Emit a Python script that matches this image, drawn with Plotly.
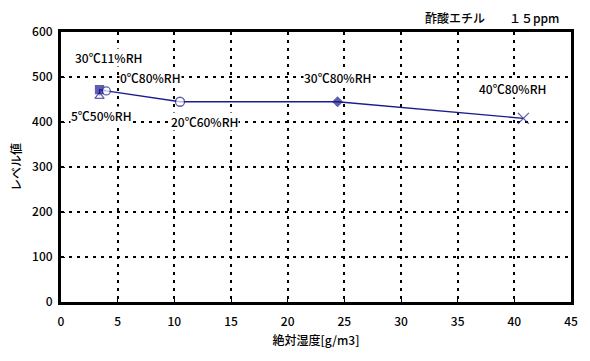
import plotly.graph_objects as go

conditions = ["5℃50%RH", "30℃11%RH", "0℃80%RH", "20℃60%RH", "30℃80%RH", "40℃80%RH"]
abs_humidity = [3.4, 3.4, 4.0, 10.5, 24.4, 40.8]
level = [457, 472, 469, 445, 445, 408]
symbols = ["triangle-up", "square", "circle", "circle", "diamond", "x-thin-open"]
fills = ["white", "#1c1c8e", "white", "white", "#1c1c8e", "#1c1c8e"]
sizes = [8, 8, 8, 9, 7, 11]

# label positions (data coords)
label_x = [3.6, 4.2, 7.9, 12.7, 24.4, 39.8]
label_y = [414, 543, 498, 401, 500, 474]

navy = "#1c1c8e"
font = "Noto Sans CJK JP"
w = 500

fig = go.Figure()
fig.add_trace(go.Scatter(
    x=abs_humidity, y=level, mode="lines+markers",
    line=dict(color=navy, width=1.3),
    marker=dict(symbol=symbols, color=fills, size=sizes,
                line=dict(color=navy, width=1.3)),
    showlegend=False,
))

for t, x, y in zip(conditions, label_x, label_y):
    fig.add_annotation(x=x, y=y, text=t, showarrow=False, bgcolor="white",
                       borderpad=0,
                       font=dict(family=font, size=12, color="black", weight=w))

fig.add_annotation(xref="paper", yref="paper", x=0.845, y=1.055, xanchor="center",
                   yanchor="middle",
                   text="酢酸エチル　　１５ppm", showarrow=False,
                   font=dict(family=font, size=12, color="black", weight=w))

fig.update_layout(
    width=590, height=361,
    margin=dict(l=61, r=19, t=32, b=59),
    paper_bgcolor="white", plot_bgcolor="white",
    font=dict(family=font, size=12, color="black", weight=w),
)
fig.update_xaxes(
    range=[0, 45], dtick=5, showgrid=True, gridcolor="black", griddash="3px,5px",
    gridwidth=1.5, zeroline=False, showline=True, linecolor="black", linewidth=3,
    mirror=True, ticks="inside", ticklen=4, tickcolor="black", ticklabelstandoff=7,
    title=dict(text="絶対湿度[g/m3]", standoff=9, font=dict(size=12, weight=w)),
)
fig.update_yaxes(
    range=[0, 600], dtick=100, showgrid=True, gridcolor="black", griddash="3px,5px",
    gridwidth=1.5, zeroline=False, showline=True, linecolor="black", linewidth=3,
    mirror=True, ticks="inside", ticklen=4, tickcolor="black", ticklabelstandoff=3,
    title=dict(text="レベル値", standoff=8, font=dict(size=12, weight=w)),
)

fig.write_html("out.html")
